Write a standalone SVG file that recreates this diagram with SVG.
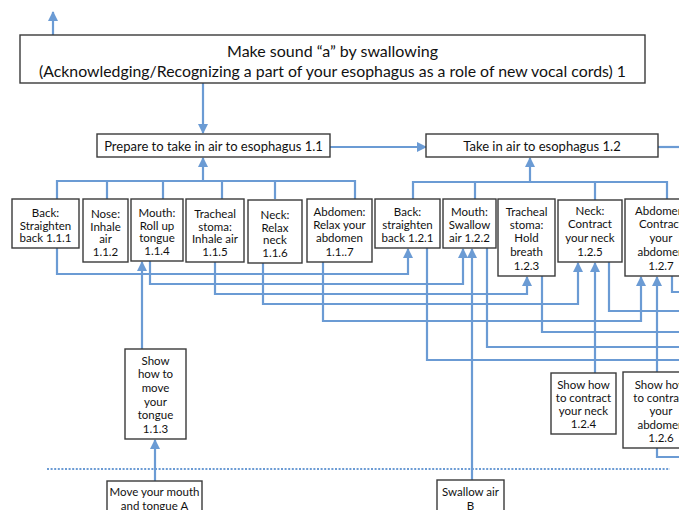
<svg xmlns="http://www.w3.org/2000/svg" width="679" height="510" viewBox="0 0 679 510">
<style>
.box{fill:#fff;stroke:#3a3a3a;stroke-width:1.4}
.t{font-family:Lato,"Open Sans","Liberation Sans",sans-serif;font-size:11.5px;fill:#111;text-anchor:middle}
.tm{font-family:Lato,"Open Sans","Liberation Sans",sans-serif;font-size:13px;fill:#111;text-anchor:middle}
.tl{font-family:Lato,"Open Sans","Liberation Sans",sans-serif;font-size:16px;fill:#111;text-anchor:middle}
.c{fill:none;stroke:#6b9bd4;stroke-width:2.2}
.a{marker-end:url(#ah)}
.dot{fill:none;stroke:#6b9bd4;stroke-width:2;stroke-dasharray:2 1.6}
</style>
<defs>
<marker id="ah" viewBox="0 0 10 10" refX="9" refY="5" markerWidth="4.6" markerHeight="4.6" orient="auto" markerUnits="strokeWidth">
<path d="M0,0 L10,5 L0,10 Z" fill="#6b9bd4"/>
</marker>
</defs>
<rect width="679" height="510" fill="#fff"/>
<g id="connectors">
<path class="c a" d="M53 35 V12"/>
<path class="c a" d="M203 83 V133"/>
<path class="c" d="M57 199 V181 H355 V199 M107 181 V199 M163 181 V199 M222 181 V199 M275 181 V199"/>
<path class="c a" d="M203 181 V158"/>
<path class="c a" d="M330 147 H426"/>
<path class="c" d="M658 147 H679"/>
<path class="c" d="M413 199 V182 H667 V199 M475 182 V199 M595 182 V200"/>
<path class="c a" d="M530 182 V158"/>
<path class="c a" d="M57 248 V274 H408 V249"/>
<path class="c a" d="M150 261 V284 H463 V249"/>
<path class="c a" d="M215 262 V294 H527 V277"/>
<path class="c a" d="M263 263 V304 H578 V263"/>
<path class="c a" d="M323 262 V321 H641 V277"/>
<path class="c a" d="M142 349 V262"/>
<path class="c a" d="M155 481 V440"/>
<path class="c" d="M427 248 V360 H679 M487 248 V347 H679 M542 276 V332 H679 M609 262 V311 H679 M672 276 V292 H679"/>
<path class="c a" d="M472 480 V249"/>
<path class="c a" d="M595 373 V263"/>
<path class="c a" d="M657 372 V277"/>
<path class="c" d="M657 448 V457 H679"/>
<path class="dot" d="M47 469 H670"/>
</g>
<g id="n1"><rect class="box" x="20" y="35" width="625" height="48"/>
<text class="tl" x="332.5" y="57">Make sound “a” by swallowing</text>
<text class="tl" x="332.5" y="77" textLength="587" lengthAdjust="spacingAndGlyphs">(Acknowledging/Recognizing a part of your esophagus as a role of new vocal cords) 1</text></g>
<g id="n1_1"><rect class="box" x="97" y="134" width="233" height="23"/><text class="tm" x="213.5" y="151">Prepare to take in air to esophagus 1.1</text></g>
<g id="n1_2"><rect class="box" x="426" y="134" width="232" height="23"/><text class="tm" x="542" y="151">Take in air to esophagus 1.2</text></g>
<g id="n1_1_1"><rect class="box" x="12" y="199" width="67" height="49"/><text class="t" x="45.5" y="217">Back:</text><text class="t" x="45.5" y="229.5">Straighten</text><text class="t" x="45.5" y="242">back 1.1.1</text></g>
<g id="n1_1_2"><rect class="box" x="83" y="199" width="45" height="63"/><text class="t" x="105.5" y="218">Nose:</text><text class="t" x="105.5" y="230.5">Inhale</text><text class="t" x="105.5" y="243">air</text><text class="t" x="105.5" y="256">1.1.2</text></g>
<g id="n1_1_4"><rect class="box" x="131" y="199" width="52" height="62"/><text class="t" x="157" y="217">Mouth:</text><text class="t" x="157" y="229.5">Roll up</text><text class="t" x="157" y="242">tongue</text><text class="t" x="157" y="255">1.1.4</text></g>
<g id="n1_1_5"><rect class="box" x="186" y="199" width="58" height="63"/><text class="t" x="215" y="218">Tracheal</text><text class="t" x="215" y="230.5">stoma:</text><text class="t" x="215" y="243">Inhale air</text><text class="t" x="215" y="256">1.1.5</text></g>
<g id="n1_1_6"><rect class="box" x="248" y="200" width="54" height="63"/><text class="t" x="275" y="219">Neck:</text><text class="t" x="275" y="231.5">Relax</text><text class="t" x="275" y="244">neck</text><text class="t" x="275" y="257">1.1.6</text></g>
<g id="n1_1_7"><rect class="box" x="307" y="199" width="65" height="63"/><text class="t" x="339.5" y="216">Abdomen:</text><text class="t" x="339.5" y="228.5">Relax your</text><text class="t" x="339.5" y="242">abdomen</text><text class="t" x="339.5" y="256">1.1..7</text></g>
<g id="n1_2_1"><rect class="box" x="375" y="199" width="65" height="49"/><text class="t" x="407.5" y="216">Back:</text><text class="t" x="407.5" y="228.5">straighten</text><text class="t" x="407.5" y="242">back 1.2.1</text></g>
<g id="n1_2_2"><rect class="box" x="443" y="199" width="53" height="49"/><text class="t" x="469.5" y="216">Mouth:</text><text class="t" x="469.5" y="228.5">Swallow</text><text class="t" x="469.5" y="242">air 1.2.2</text></g>
<g id="n1_2_3"><rect class="box" x="498" y="199" width="57" height="77"/><text class="t" x="526.5" y="216">Tracheal</text><text class="t" x="526.5" y="228.5">stoma:</text><text class="t" x="526.5" y="242">Hold</text><text class="t" x="526.5" y="256">breath</text><text class="t" x="526.5" y="270">1.2.3</text></g>
<g id="n1_2_5"><rect class="box" x="558" y="200" width="64" height="62"/><text class="t" x="590" y="215">Neck:</text><text class="t" x="590" y="228">Contract</text><text class="t" x="590" y="242">your neck</text><text class="t" x="590" y="256">1.2.5</text></g>
<g id="n1_2_7"><rect class="box" x="625" y="199" width="72" height="77"/><text class="t" x="661" y="215">Abdomen:</text><text class="t" x="661" y="228">Contract</text><text class="t" x="661" y="242">your</text><text class="t" x="661" y="256">abdomen</text><text class="t" x="661" y="270">1.2.7</text></g>
<g id="n1_1_3"><rect class="box" x="125" y="349" width="61" height="90"/><text class="t" x="155.5" y="365">Show</text><text class="t" x="155.5" y="378">how to</text><text class="t" x="155.5" y="391.5">move</text><text class="t" x="155.5" y="405.5">your</text><text class="t" x="155.5" y="419">tongue</text><text class="t" x="155.5" y="433">1.1.3</text></g>
<g id="n1_2_4"><rect class="box" x="551" y="373" width="65" height="61"/><text class="t" x="583.5" y="389">Show how</text><text class="t" x="583.5" y="402">to contract</text><text class="t" x="583.5" y="415">your neck</text><text class="t" x="583.5" y="428">1.2.4</text></g>
<g id="n1_2_6"><rect class="box" x="623" y="372" width="74" height="76"/><text class="t" x="661" y="389">Show how</text><text class="t" x="661" y="402">to contract</text><text class="t" x="661" y="415">your</text><text class="t" x="661" y="429">abdomen</text><text class="t" x="661" y="442">1.2.6</text></g>
<g id="nA"><rect class="box" x="107" y="481" width="95" height="40"/><text class="t" x="154.5" y="496">Move your mouth</text><text class="t" x="154.5" y="510">and tongue A</text></g>
<g id="nB"><rect class="box" x="437" y="480" width="67" height="41"/><text class="t" x="470.5" y="496">Swallow air</text><text class="t" x="470.5" y="510">B</text></g>
</svg>
